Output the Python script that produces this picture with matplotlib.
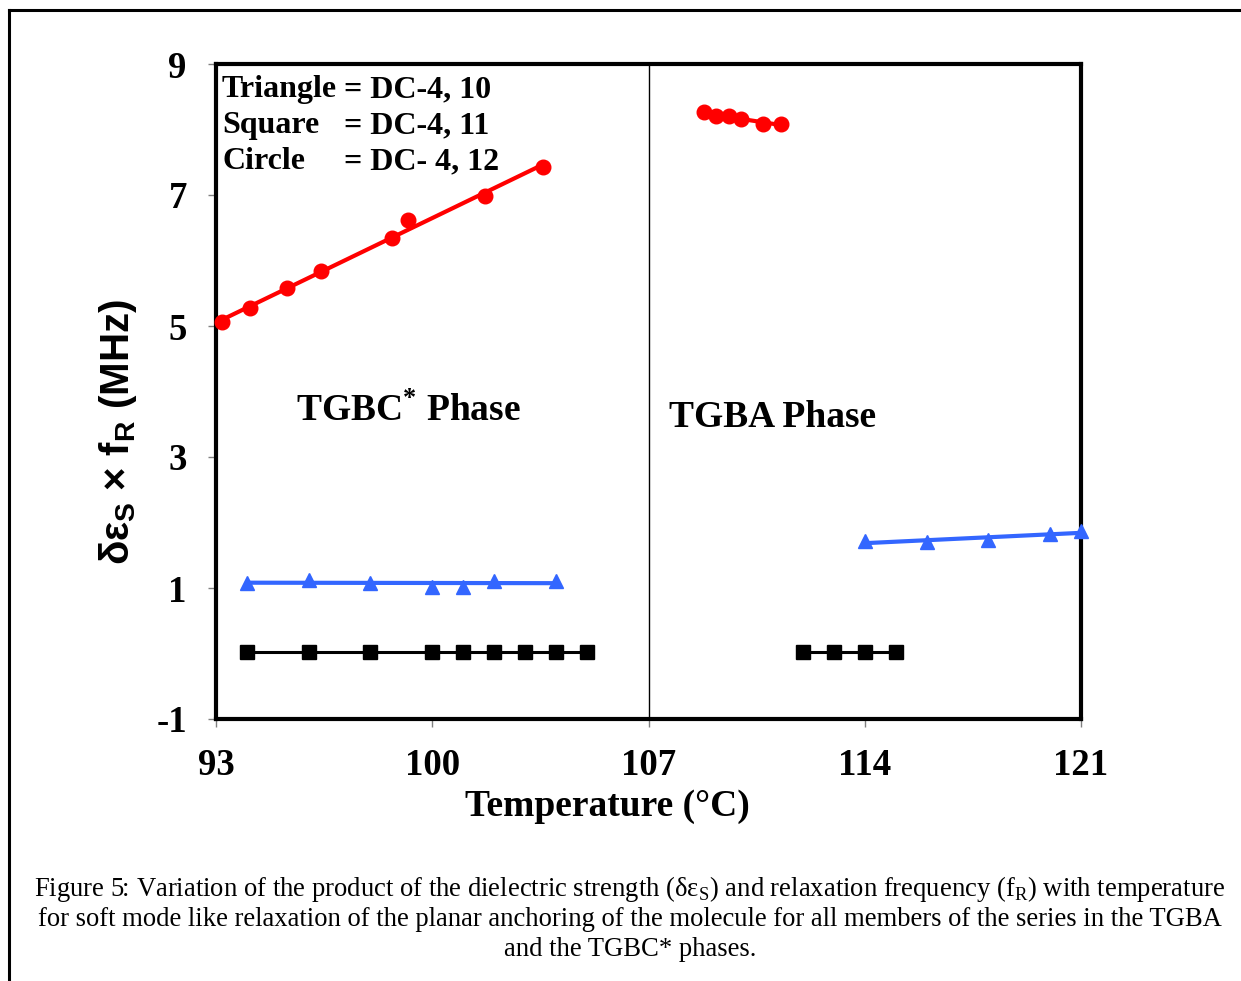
import numpy as np
import matplotlib
matplotlib.use("Agg")
import matplotlib.pyplot as plt
from matplotlib.lines import Line2D

plt.rcParams['font.family'] = ['Liberation Serif', 'DejaVu Serif']
plt.rcParams['mathtext.fontset'] = 'custom'
plt.rcParams['mathtext.rm'] = 'Liberation Serif'
plt.rcParams['mathtext.bf'] = 'Liberation Sans:bold'
plt.rcParams['mathtext.sf'] = 'Liberation Serif:bold'

# ---- data ----
circ_left_x = [93.2, 94.1, 95.3, 96.4, 98.7, 99.2, 101.7, 103.6]
circ_left_y = [5.06, 5.27, 5.58, 5.84, 6.34, 6.62, 6.99, 7.42]
circ_right_x = [108.8, 109.2, 109.6, 110.0, 110.7, 111.3]
circ_right_y = [8.26, 8.21, 8.20, 8.16, 8.08, 8.09]

tri_left_x = [94, 96, 98, 100, 101, 102, 104]
tri_left_y = [1.08, 1.12, 1.08, 1.02, 1.02, 1.11, 1.11]
tri_right_x = [114, 116, 118, 120, 121]
tri_right_y = [1.72, 1.70, 1.74, 1.82, 1.87]

sq_left_x = [94, 96, 98, 100, 101, 102, 103, 104, 105]
sq_left_y = [0.02, 0.02, 0.02, 0.02, 0.02, 0.02, 0.02, 0.02, 0.02]
sq_right_x = [112, 113, 114, 115]
sq_right_y = [0.02, 0.02, 0.02, 0.02]

x_ticks = [93, 100, 107, 114, 121]
y_ticks = [-1, 1, 3, 5, 7, 9]
phase_boundary = 107

RED = '#ff0000'
BLUE = '#3366ff'
BLACK = '#000000'

fig = plt.figure(figsize=(12.41, 9.81), dpi=100)
W, H = 1241, 981
ax = fig.add_axes([216 / W, 1 - 719 / H, 865 / W, 655 / H])


def trend(x, y, color, lw):
    x = np.asarray(x, float)
    y = np.asarray(y, float)
    p = np.polyfit(x, y, 1)
    xs = np.array([x.min(), x.max()])
    ax.plot(xs, np.polyval(p, xs), color=color, lw=lw, zorder=2, solid_capstyle='butt')


for xs, ys in [(circ_left_x, circ_left_y), (circ_right_x, circ_right_y)]:
    trend(xs, ys, RED, 3.0)
    ax.plot(xs, ys, 'o', color=RED, ms=10.5, zorder=3, clip_on=False)
for xs, ys in [(tri_left_x, tri_left_y), (tri_right_x, tri_right_y)]:
    trend(xs, ys, BLUE, 3.0)
    ax.plot(xs, ys, '^', color=BLUE, ms=10.5, zorder=3, clip_on=False)
for xs, ys in [(sq_left_x, sq_left_y), (sq_right_x, sq_right_y)]:
    trend(xs, ys, BLACK, 2.2)
    ax.plot(xs, ys, 's', color=BLACK, ms=10, zorder=3, clip_on=False)

ax.axvline(phase_boundary, color='black', lw=1.0, zorder=1)

ax.set_xlim(93, 121)
ax.set_ylim(-1, 9)
ax.set_xticks(x_ticks)
ax.set_yticks(y_ticks)
ax.set_xticklabels([str(t) for t in x_ticks], fontsize=26.5, fontweight='bold')
ax.set_yticklabels([str(t) for t in y_ticks], fontsize=26.5, fontweight='bold')
ax.tick_params(direction='out', length=6, width=1, color='#808080', pad=15)
for s in ax.spines.values():
    s.set_linewidth(3)
    s.set_color('black')

# legend-like text
tfrac = ax.transAxes
labels_left = ['Triangle', 'Square', 'Circle']
labels_right = ['= DC-4, 10', '= DC-4, 11', '= DC- 4, 12']
ys_txt = [0.961, 0.906, 0.851]
for l, r, yy in zip(labels_left, labels_right, ys_txt):
    ax.text(0.007, yy, l, transform=tfrac, fontsize=23, fontweight='bold', ha='left', va='center')
    ax.text(0.148, yy, r, transform=tfrac, fontsize=23, fontweight='bold', ha='left', va='center')

ax.text(0.223, 0.470, r'TGBC$^\mathsf{*}$ Phase', transform=tfrac, fontsize=27,
        fontweight='bold', ha='center', va='center')
ax.text(0.644, 0.461, 'TGBA Phase', transform=tfrac, fontsize=27,
        fontweight='bold', ha='center', va='center')

ax.text(0.452, -0.134, 'Temperature (°C)', transform=tfrac, fontsize=27,
        fontweight='bold', ha='center', va='center')
ax.text(-0.113, 0.438, r'δε$_\mathbf{S}$ × f$_\mathbf{R}$ (MHz)', transform=tfrac,
        fontsize=29, fontweight='bold', family=['Liberation Sans', 'DejaVu Sans'],
        rotation=90, ha='center', va='center')

# caption
cap = [r'Figure 5: Variation of the product of the dielectric strength (δε$_\mathrm{S}$) and relaxation frequency (f$_\mathrm{R}$) with temperature',
       'for soft mode like relaxation of the planar anchoring of the molecule for all members of the series in the TGBA',
       'and the TGBC* phases.']
for line, py in zip(cap, [889, 919, 949]):
    fig.text(630 / W, 1 - py / H, line, fontsize=19.2, ha='center', va='center')

# outer frame (clipped at right/bottom)
fig.add_artist(Line2D([8.5 / W, 1.0], [1 - 10 / H, 1 - 10 / H], transform=fig.transFigure,
                      color='black', lw=2.2))
fig.add_artist(Line2D([8.5 / W, 8.5 / W], [0.0, 1 - 10 / H], transform=fig.transFigure,
                      color='black', lw=2.2))

fig.savefig('out.png', dpi=100, facecolor='white')
